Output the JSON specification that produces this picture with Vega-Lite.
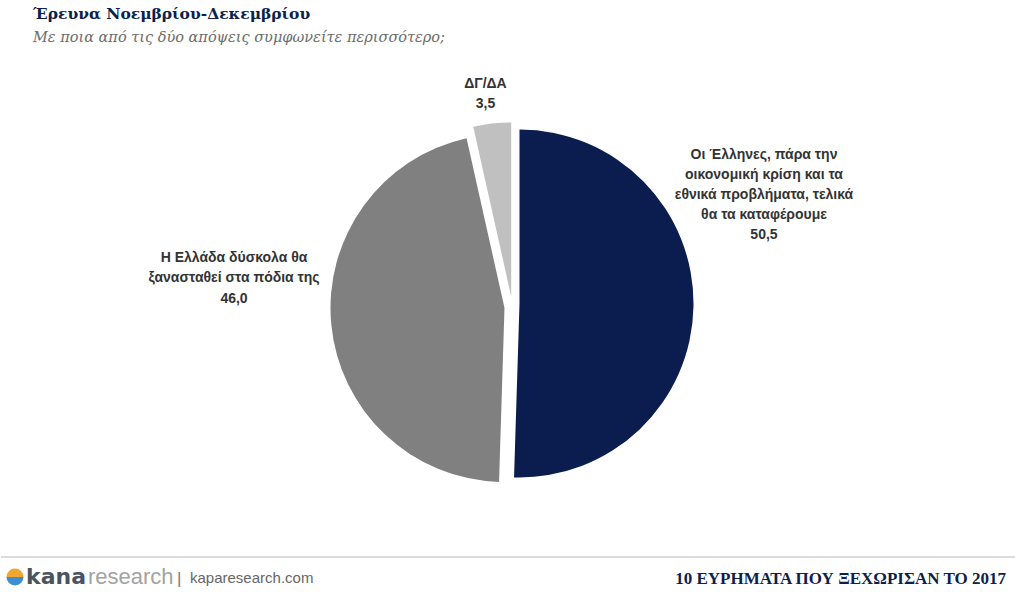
{
  "$schema": "https://vega.github.io/schema/vega-lite/v6.json",
  "padding": {"left": 0, "right": 0, "top": 7, "bottom": 0},
  "background": "white",
  "config": {"view": {"stroke": null}, "concat": {"spacing": 0}},
  "datasets": {
    "pie": [
      {"key": "yes", "ord": 1, "value": 50.5, "label": ["Οι Έλληνες, πάρα την", "οικονομική κρίση και τα", "εθνικά προβλήματα, τελικά", "θα τα καταφέρουμε", "50,5"]},
      {"key": "no", "ord": 2, "value": 46.0, "label": ["Η Ελλάδα δύσκολα θα", "ξανασταθεί στα πόδια της", "46,0"]},
      {"key": "dk", "ord": 3, "value": 3.5, "label": ["ΔΓ/ΔΑ", "3,5"]}
    ],
    "footer": [
      {"part": "kana", "text": "kana"},
      {"part": "research", "text": "research"},
      {"part": "bar", "text": "|"},
      {"part": "site", "text": "kaparesearch.com"},
      {"part": "tag", "text": "10 ΕΥΡΗΜΑΤΑ ΠΟΥ ΞΕΧΩΡΙΣΑΝ ΤΟ 2017"}
    ]
  },
  "vconcat": [
    {
      "title": {
        "text": "Έρευνα Νοεμβρίου-Δεκεμβρίου",
        "subtitle": "Με ποια από τις δύο απόψεις συμφωνείτε περισσότερο;",
        "anchor": "start",
        "dx": 32,
        "offset": 8,
        "font": "DejaVu Serif",
        "fontSize": 15.5,
        "fontWeight": "bold",
        "color": "#0d1f4d",
        "subtitleFont": "DejaVu Serif",
        "subtitleFontStyle": "italic",
        "subtitleFontSize": 14.5,
        "subtitleColor": "#6b6b6b",
        "subtitlePadding": 8
      },
      "width": 1015,
      "height": 504,
      "data": {"name": "pie"},
      "transform": [
        {"window": [{"op": "sum", "field": "value", "as": "v1"}], "sort": [{"field": "ord"}], "frame": [null, 0]}
      ],
      "layer": [
        {
          "transform": [{"filter": "datum.key === 'yes'"}],
          "mark": {"type": "arc", "outerRadius": 174, "xOffset": 11, "yOffset": -0.5},
          "encoding": {
            "theta": {"field": "v1", "type": "quantitative", "scale": {"domain": [0, 100]}},
            "theta2": {"datum": 0},
            "color": {"value": "#0b1d4f"}
          }
        },
        {
          "transform": [{"filter": "datum.key === 'no'"}],
          "mark": {"type": "arc", "outerRadius": 174, "xOffset": -4, "yOffset": 4},
          "encoding": {
            "theta": {"field": "v1", "type": "quantitative", "scale": {"domain": [0, 100]}},
            "theta2": {"datum": 50.5},
            "color": {"value": "#808080"}
          }
        },
        {
          "transform": [{"filter": "datum.key === 'dk'"}],
          "mark": {"type": "arc", "outerRadius": 174, "xOffset": 2.7, "yOffset": -7.5},
          "encoding": {
            "theta": {"field": "v1", "type": "quantitative", "scale": {"domain": [0, 100]}},
            "theta2": {"datum": 96.5},
            "color": {"value": "#c0c0c0"}
          }
        },
        {
          "transform": [{"filter": "datum.key === 'yes'"}],
          "mark": {"type": "text", "radius": 255.5, "dy": -153, "font": "Liberation Sans", "fontWeight": "bold", "fontSize": 14, "lineHeight": 20, "color": "#333333"},
          "encoding": {
            "theta": {"datum": 25.25, "type": "quantitative", "scale": {"domain": [0, 100]}},
            "text": {"field": "label"}
          }
        },
        {
          "transform": [{"filter": "datum.key === 'no'"}],
          "mark": {"type": "text", "radius": 275.7, "dy": -72, "font": "Liberation Sans", "fontWeight": "bold", "fontSize": 14, "lineHeight": 20.5, "color": "#333333"},
          "encoding": {
            "theta": {"datum": 73.5, "type": "quantitative", "scale": {"domain": [0, 100]}},
            "text": {"field": "label"}
          }
        },
        {
          "transform": [{"filter": "datum.key === 'dk'"}],
          "mark": {"type": "text", "radius": 210, "dy": -11, "font": "Liberation Sans", "fontWeight": "bold", "fontSize": 14, "lineHeight": 20, "color": "#333333"},
          "encoding": {
            "theta": {"datum": 98.25, "type": "quantitative", "scale": {"domain": [0, 100]}},
            "text": {"field": "label"}
          }
        }
      ]
    },
    {
      "width": 1015,
      "height": 31,
      "data": {"name": "footer"},
      "layer": [
        {
          "mark": {"type": "rule", "color": "#dcdcdc", "strokeWidth": 2},
          "encoding": {"y": {"value": 0}}
        },
        {
          "transform": [{"filter": "datum.part === 'kana'"}],
          "mark": {"type": "arc", "outerRadius": 8.5, "theta": -1.5708, "theta2": 1.5708, "color": "#f0a732"},
          "encoding": {"x": {"value": 14}, "y": {"value": 20}}
        },
        {
          "transform": [{"filter": "datum.part === 'kana'"}],
          "mark": {"type": "arc", "outerRadius": 8.5, "theta": 1.5708, "theta2": 4.7124, "color": "#3d8fd1"},
          "encoding": {"x": {"value": 14}, "y": {"value": 20}}
        },
        {
          "transform": [{"filter": "datum.part === 'kana'"}],
          "mark": {"type": "text", "align": "left", "baseline": "alphabetic", "font": "DejaVu Sans", "fontWeight": "bold", "fontSize": 22, "color": "#4a5360"},
          "encoding": {"x": {"value": 25}, "y": {"value": 27}, "text": {"field": "text"}}
        },
        {
          "transform": [{"filter": "datum.part === 'research'"}],
          "mark": {"type": "text", "align": "left", "baseline": "alphabetic", "font": "Liberation Sans", "fontSize": 22, "color": "#a3a3a3"},
          "encoding": {"x": {"value": 87}, "y": {"value": 27}, "text": {"field": "text"}}
        },
        {
          "transform": [{"filter": "datum.part === 'bar'"}],
          "mark": {"type": "text", "align": "left", "baseline": "alphabetic", "font": "Liberation Sans", "fontSize": 17, "color": "#777777"},
          "encoding": {"x": {"value": 176}, "y": {"value": 27}, "text": {"field": "text"}}
        },
        {
          "transform": [{"filter": "datum.part === 'site'"}],
          "mark": {"type": "text", "align": "left", "baseline": "alphabetic", "font": "Liberation Sans", "fontSize": 15, "color": "#666666"},
          "encoding": {"x": {"value": 189}, "y": {"value": 26}, "text": {"field": "text"}}
        },
        {
          "transform": [{"filter": "datum.part === 'tag'"}],
          "mark": {"type": "text", "align": "right", "baseline": "alphabetic", "font": "Liberation Serif", "fontWeight": "bold", "fontSize": 17, "color": "#0d1f4d"},
          "encoding": {"x": {"value": 1005}, "y": {"value": 27}, "text": {"field": "text"}}
        }
      ]
    }
  ]
}
